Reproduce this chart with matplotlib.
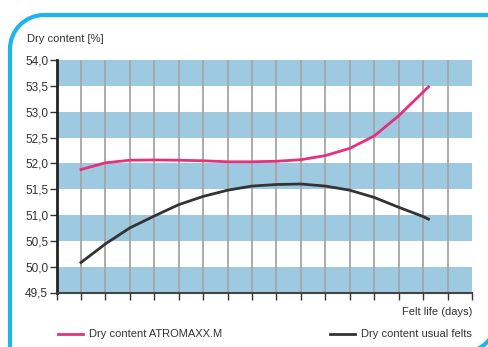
import matplotlib
matplotlib.use("Agg")
import matplotlib.pyplot as plt
from matplotlib.patches import Arc

plt.rcParams['font.family'] = ['Liberation Sans', 'DejaVu Sans']

# felt life in days and dry content readings
days = [1, 2, 3, 4, 5, 6, 7, 8, 9, 10, 11, 12, 13, 14, 15, 15.22]
atromaxx = [51.88, 52.01, 52.06, 52.065, 52.06, 52.05, 52.03, 52.03,
            52.04, 52.07, 52.15, 52.29, 52.53, 52.92, 53.38, 53.48]
usual = [50.08, 50.44, 50.75, 50.98, 51.2, 51.36, 51.48, 51.56,
         51.59, 51.60, 51.56, 51.48, 51.34, 51.15, 50.97, 50.92]

y_ticks = [49.5, 50.0, 50.5, 51.0, 51.5, 52.0, 52.5, 53.0, 53.5, 54.0]
y_labels = [f"{v:.1f}".replace(".", ",") for v in y_ticks]
band_starts = [49.5, 50.5, 51.5, 52.5, 53.5]

W, H = 488, 347
fig = plt.figure(figsize=(W / 100, H / 100), dpi=100)
text_col = "#333333"
fs = 8.0

# outer rounded frame
frame_col = "#1DB5EC"
ov = fig.add_axes([0, 0, 1, 1])
ov.set_xlim(0, W)
ov.set_ylim(H, 0)
ov.axis("off")
r = 34
ov.plot([10, 10], [15 + r, H + 2], color=frame_col, lw=3, solid_capstyle="butt")
ov.plot([10 + r, W + 2], [15, 15], color=frame_col, lw=3, solid_capstyle="butt")
ov.add_patch(Arc((10 + r, 15 + r), 2 * r, 2 * r, theta1=180, theta2=270,
                 color=frame_col, lw=3))
ov.add_patch(Arc((464, 320), 64, 64, theta1=0, theta2=90,
                 color=frame_col, lw=3))

x0, x1, ytop, ybot = 56.5, 472, 60, 292.5
ax = fig.add_axes([x0 / W, (H - ybot) / H, (x1 - x0) / W, (ybot - ytop) / H])
ax.set_xlim(0, 17)
ax.set_ylim(49.5, 54.0)

for b in band_starts:
    ax.axhspan(b, b + 0.5, color="#9ECAE1", lw=0, zorder=0)
for d in range(1, 17):
    ax.axvline(d, color="#A6A6A6", lw=1.3, zorder=1)

ax.plot(days, atromaxx, color="#E5307E", lw=2, zorder=3)
ax.plot(days, usual, color="#333333", lw=2, zorder=3)

ax.set_yticks(y_ticks)
ax.set_yticklabels(y_labels, fontsize=8.5, color=text_col)
ax.set_xticks(range(0, 18))
ax.set_xticklabels([])
ax.tick_params(axis="y", direction="out", length=5, width=1, color="#333333", pad=1)
ax.tick_params(axis="x", direction="out", length=5, width=1, color="#333333")
for s in ["top", "right"]:
    ax.spines[s].set_visible(False)
ax.spines["left"].set_color("#222222")
ax.spines["left"].set_linewidth(2)
ax.spines["bottom"].set_color("#444444")
ax.spines["bottom"].set_linewidth(1.5)

ov.text(27, 39, "Dry content [%]", fontsize=fs, color=text_col,
        va="center", ha="left")
ov.text(472, 312, "Felt life (days)", fontsize=fs, color=text_col,
        va="center", ha="right")

# legend
ov.plot([58, 83], [334, 334], color="#E5307E", lw=2)
ov.text(89, 334, "Dry content ATROMAXX.M", fontsize=fs, color=text_col, va="center")
ov.plot([330, 355], [334, 334], color="#333333", lw=2)
ov.text(472, 334, "Dry content usual felts", fontsize=fs, color=text_col,
        va="center", ha="right")

fig.savefig("out.png", dpi=100)
